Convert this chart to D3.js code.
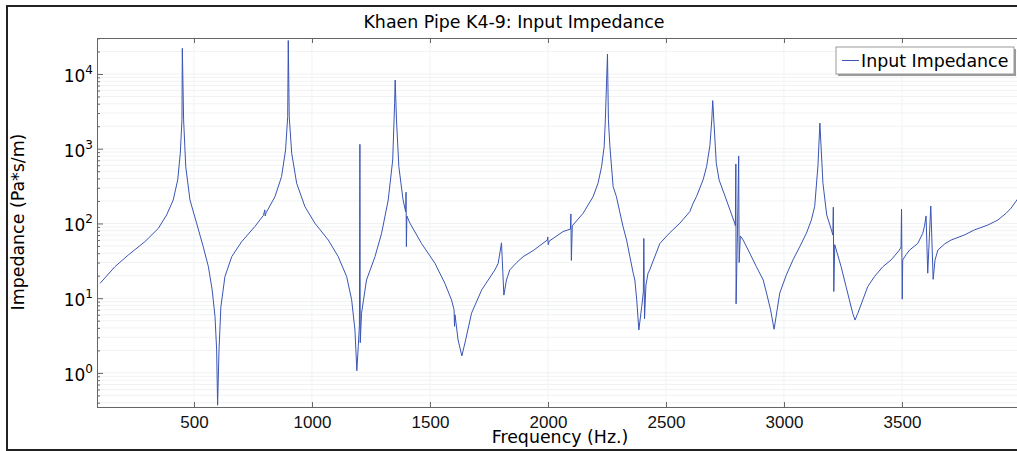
<!DOCTYPE html>
<html>
<head>
<meta charset="utf-8">
<script src="https://cdn.jsdelivr.net/npm/d3@7"></script>
<style>
  body { margin: 0; background: #fff; }
  svg { display: block; font-family: "DejaVu Sans", sans-serif; }
  .grid line { stroke: #f1f2f4; stroke-width: 1; }
  .axis path, .axis line { stroke: #666; }
  .axis text { font-size: 17px; fill: #111; }
</style>
</head>
<body>
<script>
// frequency (Hz) and impedance (Pa*s/m)
var freqHz = [102, 165, 222, 292, 349, 384, 412, 431, 442, 449, 450.5, 456, 465, 483, 511, 539, 561, 577, 589, 596,
  600, 606, 614, 631, 660, 702, 758, 794, 800, 801.5, 806, 843, 871, 888, 897, 899.5, 903.5, 914, 935, 970,
  1012, 1069, 1111, 1147, 1168, 1182, 1190, 1196, 1201, 1203, 1204.5, 1210, 1231, 1267, 1295, 1323, 1342, 1350, 1352.5, 1358,
  1368, 1386, 1397, 1398.5, 1400, 1402, 1415, 1464, 1521, 1563, 1591, 1602, 1604, 1606, 1619, 1635, 1651, 1676, 1719, 1775,
  1789, 1803, 1813, 1824, 1838, 1867, 1895, 1937, 1997, 1999, 2001, 2005, 2064, 2095, 2097, 2099, 2103, 2149, 2191, 2212,
  2227, 2238, 2243, 2252, 2256, 2262, 2276, 2290, 2304, 2318, 2333, 2361, 2368, 2376, 2385, 2397, 2404, 2406, 2409, 2415,
  2424, 2431, 2474, 2516, 2559, 2601, 2615, 2629, 2657, 2672, 2686, 2694, 2698, 2705, 2713, 2725, 2756, 2791, 2794, 2796,
  2797, 2803, 2808, 2810, 2815, 2827, 2855, 2883, 2912, 2926, 2943, 2958, 2971, 2982, 3010, 3038, 3067, 3095, 3116, 3130,
  3144, 3152, 3165, 3181, 3201, 3207, 3209, 3211, 3215, 3242, 3263, 3277, 3291, 3301, 3313, 3334, 3355, 3383, 3419, 3454,
  3489, 3496, 3498, 3501, 3503, 3517, 3532, 3567, 3588, 3595, 3602, 3609, 3622, 3632, 3640, 3652, 3680, 3708, 3764, 3807,
  3863, 3906, 3941, 3962, 3992];
var impedance = [15.8, 26.4, 37.9, 57.1, 86, 130, 206, 382, 869, 2430, 22000, 2430, 575, 206, 101, 49, 26.4, 12.9, 5.7, 2.03,
  0.37, 2.03, 7.7, 19.4, 36, 57, 91, 128, 152, 126, 140, 228, 423, 962, 2690, 28000, 2690, 869, 345, 168,
  101, 60, 36, 19.4, 9.5, 3.76, 1.07, 2.25, 4.4, 1146, 2.54, 6.3, 17.5, 36, 74, 206, 707, 4000, 8300, 2430,
  575, 206, 143, 262, 49, 126, 101, 54, 29.3, 15.8, 9.5, 7.0, 4.2, 6.0, 2.76, 1.69, 2.76, 6.3, 12.9, 23.9,
  29.3, 55, 11, 17.5, 23.9, 29.9, 36, 43.3, 60, 66, 52, 58, 78, 84, 134, 32, 93, 137, 228, 345,
  575, 1065, 2430, 18500, 2430, 1100, 311, 228, 143, 91, 60, 21.6, 17.5, 9.5, 3.76, 7.7, 12.1, 63, 5.3, 15,
  21.6, 23.9, 54, 75, 101, 144, 186, 228, 382, 575, 1100, 2430, 4400, 1780, 639, 382, 206, 101, 93, 625,
  8.4, 82, 800, 30, 68, 60, 40, 26.4, 17.5, 11.7, 7.0, 3.84, 7.0, 11.7, 20.5, 32.5, 49, 74, 111, 168,
  600, 2200, 345, 130, 82, 70, 165, 12.3, 52, 26.4, 14.3, 9.5, 6.3, 5.1, 6.3, 9.5, 14.3, 19.4, 26.4, 32.5,
  44, 48.5, 155, 9.7, 32.5, 38, 44, 54, 74, 91, 126, 21.6, 171, 17.9, 32.5, 44, 53, 60, 70, 82,
  95, 111, 137, 160, 217];

var xTicks = [500, 1000, 1500, 2000, 2500, 3000, 3500];
var yDecades = [0, 1, 2, 3, 4];

var margin = {top: 38, left: 97},
    width = 923,
    height = 369;

var x = d3.scaleLinear().domain([89, 4000]).range([0, width]);
var y = d3.scaleLog().domain([0.35, 30300]).range([height, 0]);

var yMinor = [];
yDecades.concat([-1]).forEach(function(e) {
  for (var k = 2; k <= 9; k++) {
    var v = k * Math.pow(10, e);
    if (v > 0.35 && v < 30300) yMinor.push(v);
  }
});
var yMajor = yDecades.map(function(e) { return Math.pow(10, e); });

var svg = d3.select("body").append("svg")
  .attr("width", 1017)
  .attr("height", 451);

// outer frame
svg.append("rect")
  .attr("x", 7).attr("y", 6)
  .attr("width", 1100).attr("height", 444)
  .attr("fill", "none")
  .attr("stroke", "#222")
  .attr("stroke-width", 2);

svg.append("text")
  .attr("x", 514).attr("y", 28)
  .attr("text-anchor", "middle")
  .style("font-size", "17.4px")
  .text("Khaen Pipe K4-9: Input Impedance");

var g = svg.append("g")
  .attr("transform", "translate(" + margin.left + "," + margin.top + ")");

//grid
var grid = g.append("g").attr("class", "grid");
grid.selectAll(".gx").data(xTicks).enter().append("line")
  .attr("x1", function(d) { return x(d); }).attr("x2", function(d) { return x(d); })
  .attr("y1", 0).attr("y2", height);
grid.selectAll(".gy").data(yMajor.concat(yMinor)).enter().append("line")
  .attr("x1", 0).attr("x2", width)
  .attr("y1", function(d) { return y(d); }).attr("y2", function(d) { return y(d); });

g.append("clipPath").attr("id", "clip")
  .append("rect").attr("width", width).attr("height", height);

var line = d3.line()
  .x(function(d) { return x(d[0]); })
  .y(function(d) { return y(d[1]); });

g.append("path")
  .datum(freqHz.map(function(f, i) { return [f, impedance[i]]; }))
  .attr("clip-path", "url(#clip)")
  .attr("fill", "none")
  .attr("stroke", "#3a55b4")
  .attr("stroke-width", 1)
  .attr("d", line);

//x axes (ticks point inward)
g.append("g")
  .attr("class", "axis")
  .attr("transform", "translate(0," + height + ")")
  .call(d3.axisBottom(x).tickValues(xTicks).tickSize(-5).tickPadding(9).tickFormat(d3.format("d")));
g.append("g")
  .attr("class", "axis")
  .call(d3.axisTop(x).tickValues(xTicks).tickSize(-5).tickFormat(""));

//y axis
g.append("g")
  .attr("class", "axis")
  .call(d3.axisLeft(y).tickValues(yMinor).tickSize(-3).tickFormat(""));
g.append("g")
  .attr("class", "axis")
  .call(d3.axisLeft(y).tickValues(yMajor).tickSize(-6).tickFormat(""));

var ylab = g.selectAll(".ylab").data(yDecades).enter().append("text")
  .attr("x", -4)
  .attr("y", function(d) { return y(Math.pow(10, d)) + 8; })
  .attr("text-anchor", "end")
  .style("font-size", "17px");
ylab.append("tspan").text("10");
ylab.append("tspan").attr("dy", -8).style("font-size", "12px")
  .text(function(d) { return d; });

svg.append("text")
  .attr("x", 560).attr("y", 443)
  .attr("text-anchor", "middle")
  .style("font-size", "17.4px")
  .text("Frequency (Hz.)");

svg.append("text")
  .attr("transform", "translate(24,222) rotate(-90)")
  .attr("text-anchor", "middle")
  .style("font-size", "17.4px")
  .text("Impedance (Pa*s/m)");

//legend
var leg = svg.append("g").attr("transform", "translate(836,47)");
leg.append("rect").attr("x", 2).attr("y", 2).attr("width", 178).attr("height", 27).attr("fill", "#9a9a9a");
leg.append("rect").attr("width", 178).attr("height", 27)
  .attr("fill", "#fff").attr("stroke", "#999").attr("stroke-width", 1);
leg.append("line").attr("x1", 6).attr("x2", 23).attr("y1", 13.5).attr("y2", 13.5)
  .attr("stroke", "#3a55b4").attr("stroke-width", 1);
leg.append("text").attr("x", 25).attr("y", 19.5)
  .style("font-size", "17.4px")
  .text("Input Impedance");
</script>
</body>
</html>
